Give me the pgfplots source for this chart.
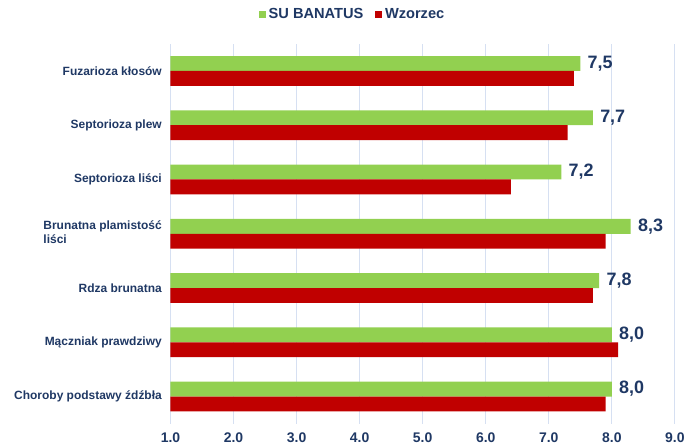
\documentclass[border=0pt]{standalone}
\usepackage{pgfplots}
\usepackage{pgfplotstable}
\pgfplotsset{compat=1.18}
\usepackage{fontspec}
\setmainfont{Liberation Sans}
\definecolor{cgreen}{HTML}{92D050}
\definecolor{cred}{HTML}{C00000}
\definecolor{cnavy}{HTML}{1F3864}
\definecolor{cgrid}{HTML}{D6E0F2}
\pgfplotstableread{
y green red lab
6 7.5 7.4 7,5
5 7.7 7.3 7,7
4 7.2 6.4 7,2
3 8.3 7.9 8,3
2 7.8 7.7 7,8
1 8.0 8.1 8,0
0 8.0 7.9 8,0
}\data
\begin{document}
\begin{tikzpicture}
\begin{axis}[
  name=ax,
  scale only axis,
  width=379.5pt, height=285.75pt,
  xmin=1, xmax=9,
  ymin=-0.5, ymax=6.5,
  xtick={1,2,3,4,5,6,7,8,9},
  xticklabels={1.0,2.0,3.0,4.0,5.0,6.0,7.0,8.0,9.0},
  ytick={0,1,2,3,4,5,6},
  yticklabels={Choroby podstawy źdźbła,Mączniak prawdziwy,Rdza brunatna,{\begin{tabular}{@{}l@{}}Brunatna plamistość\\liści\end{tabular}},Septorioza liści,Septorioza plew,Fuzarioza kłosów},
  xmajorgrids,
  grid style={cgrid, line width=0.8pt},
  major tick length=0pt,
  axis x line*=bottom,
  axis y line*=left,
  x axis line style={draw=none},
  y axis line style={cgrid, line width=0.8pt},
  xticklabel style={font=\fontsize{10.5}{12}\selectfont\bfseries, text=cnavy, yshift=-3pt},
  yticklabel style={font=\fontsize{9}{10.5}\selectfont\bfseries, text=cnavy, xshift=-3pt, align=left},
  xbar, bar width=11.25pt,
  legend style={at={(0.362,1.078)}, anchor=center, legend columns=2, draw=none, fill=none,
    font=\fontsize{11}{13}\selectfont\bfseries, text=cnavy,
    /tikz/every odd column/.append style={column sep=0pt},
    /tikz/every even column/.append style={column sep=7pt}},
  legend image code/.code={\fill[#1] (0pt,-2.6pt) rectangle (5.2pt,2.6pt);},
  clip=false,
]
\addplot[fill=cgreen, draw=none, bar shift=5.625pt,
  point meta=explicit symbolic,
  nodes near coords,
  nodes near coords style={font=\fontsize{13.5}{15}\selectfont\bfseries, text=cnavy, anchor=west, xshift=2pt}
] table[x=green, y=y, meta=lab] {\data};
\addlegendentry{SU BANATUS}
\addplot[fill=cred, draw=none, bar shift=-5.625pt] table[x=red, y=y] {\data};
\addlegendentry{Wzorzec}
\end{axis}
\path (ax.south west) ++(-128.25pt,-17.25pt) coordinate (bl);
\path (ax.north east) ++(9pt,33pt) coordinate (tr);
\path[use as bounding box] (bl) rectangle (tr);
\end{tikzpicture}
\end{document}
